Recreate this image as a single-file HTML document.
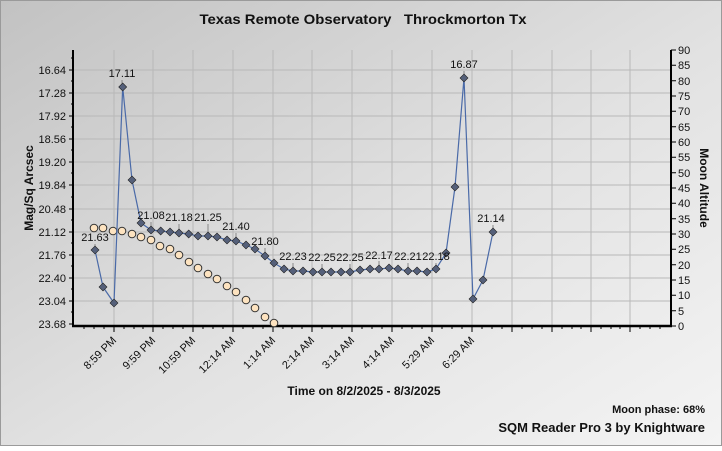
<!DOCTYPE html>
<html><head><meta charset="utf-8"><style>
html,body{margin:0;padding:0;}
body{width:722px;height:446px;overflow:hidden;}
text{font-family:"Liberation Sans",Arial,sans-serif;}
</style></head><body>
<svg width="722" height="446" xmlns="http://www.w3.org/2000/svg">
<defs>
<linearGradient id="bg" x1="0" y1="0" x2="1" y2="1">
<stop offset="0" stop-color="#c2c2c2"/><stop offset="0.55" stop-color="#e2e2e2"/><stop offset="1" stop-color="#f4f4f4"/>
</linearGradient>
</defs>
<rect x="0" y="0" width="722" height="446" fill="url(#bg)"/>
<rect x="0.5" y="0.5" width="721" height="445" fill="none" stroke="#9a9a9a"/>
<text x="363" y="24" text-anchor="middle" font-size="14" font-weight="bold" fill="#111" textLength="327" lengthAdjust="spacingAndGlyphs" xml:space="preserve">Texas Remote Observatory   Throckmorton Tx</text>
<g stroke="#b8b8b8" stroke-width="1">
<path d="M114 50V326M153 50V326M193 50V326M233 50V326M273 50V326M312 50V326M352 50V326M392 50V326M432 50V326M472 50V326M512 50V326M552 50V326M591 50V326M630 50V326"/>
<path d="M74 70H670M74 93H670M74 116H670M74 139H670M74 162H670M74 185H670M74 209H670M74 232H670M74 255H670M74 278H670M74 301H670"/>
</g>
<g stroke="#000">
<line x1="73" y1="50" x2="73" y2="327" stroke-width="2"/>
<line x1="671" y1="50" x2="671" y2="327" stroke-width="2"/>
<line x1="72" y1="326" x2="672" y2="326" stroke-width="2.5"/>
<path stroke-width="1" d="M69 70H73M69 93H73M69 116H73M69 139H73M69 162H73M69 185H73M69 209H73M69 232H73M69 255H73M69 278H73M69 301H73M69 324H73
M71 58H73M71 81H73M71 104H73M71 127H73M71 150H73M71 173H73M71 197H73M71 220H73M71 243H73M71 266H73M71 289H73M71 312H73
M671 50H676M671 65.3H676M671 80.7H676M671 96H676M671 111.3H676M671 126.7H676M671 142H676M671 157.3H676M671 172.7H676M671 188H676M671 203.3H676M671 218.7H676M671 234H676M671 249.3H676M671 264.7H676M671 280H676M671 295.3H676M671 310.7H676M671 326H676"/>
<path stroke-width="1" d="M114 326V332M153 326V332M193 326V332M233 326V332M273 326V332M312 326V332M352 326V332M392 326V332M432 326V332M472 326V332M512 326V332M552 326V332M591 326V332M630 326V332
M84 326V329M94 326V329M104 326V329M124 326V329M134 326V329M143 326V329M163 326V329M173 326V329M183 326V329M203 326V329M213 326V329M223 326V329M243 326V329M253 326V329M263 326V329M283 326V329M292 326V329M302 326V329M322 326V329M332 326V329M342 326V329M362 326V329M372 326V329M382 326V329M402 326V329M412 326V329M422 326V329M442 326V329M452 326V329M462 326V329M482 326V329M492 326V329M502 326V329M522 326V329M532 326V329M542 326V329M562 326V329M572 326V329M581 326V329M601 326V329M611 326V329M620 326V329M640 326V329M650 326V329M660 326V329"/>
</g>
<g font-size="11" fill="#111" text-anchor="end">
<text x="66" y="74">16.64</text><text x="66" y="97">17.28</text><text x="66" y="120">17.92</text><text x="66" y="143">18.56</text><text x="66" y="166">19.20</text><text x="66" y="189">19.84</text><text x="66" y="213">20.48</text><text x="66" y="236">21.12</text><text x="66" y="259">21.76</text><text x="66" y="282">22.40</text><text x="66" y="305">23.04</text><text x="66" y="328">23.68</text>
</g>
<g font-size="11" fill="#111">
<text x="678" y="54">90</text><text x="678" y="69">85</text><text x="678" y="85">80</text><text x="678" y="100">75</text><text x="678" y="115">70</text><text x="678" y="131">65</text><text x="678" y="146">60</text><text x="678" y="161">55</text><text x="678" y="177">50</text><text x="678" y="192">45</text><text x="678" y="207">40</text><text x="678" y="223">35</text><text x="678" y="238">30</text><text x="678" y="253">25</text><text x="678" y="269">20</text><text x="678" y="284">15</text><text x="678" y="299">10</text><text x="678" y="315">5</text><text x="678" y="330">0</text>
</g>
<text transform="translate(33,188) rotate(-90)" text-anchor="middle" font-size="12" font-weight="bold" fill="#111">Mag/Sq Arcsec</text>
<text transform="translate(700,188) rotate(90)" text-anchor="middle" font-size="12" font-weight="bold" fill="#111">Moon Altitude</text>
<g font-size="11" fill="#111" text-anchor="end">
<text transform="translate(117,341) rotate(-45)">8:59 PM</text>
<text transform="translate(156,341) rotate(-45)">9:59 PM</text>
<text transform="translate(196,341) rotate(-45)">10:59 PM</text>
<text transform="translate(236,341) rotate(-45)">12:14 AM</text>
<text transform="translate(276,341) rotate(-45)">1:14 AM</text>
<text transform="translate(315,341) rotate(-45)">2:14 AM</text>
<text transform="translate(355,341) rotate(-45)">3:14 AM</text>
<text transform="translate(395,341) rotate(-45)">4:14 AM</text>
<text transform="translate(435,341) rotate(-45)">5:29 AM</text>
<text transform="translate(475,341) rotate(-45)">6:29 AM</text>
</g>
<text x="364" y="395" text-anchor="middle" font-size="12" font-weight="bold" fill="#111">Time on 8/2/2025 - 8/3/2025</text>
<text x="705" y="413" text-anchor="end" font-size="11" font-weight="bold" fill="#111">Moon phase: 68%</text>
<text x="705" y="432" text-anchor="end" font-size="13" font-weight="bold" fill="#111">SQM Reader Pro 3 by Knightware</text>
<g fill="#fde3c0" stroke="#333" stroke-width="1">
<circle cx="94" cy="228" r="3.8"/><circle cx="103" cy="228" r="3.8"/><circle cx="113" cy="231" r="3.8"/><circle cx="122" cy="231" r="3.8"/><circle cx="132" cy="234" r="3.8"/><circle cx="141" cy="237" r="3.8"/><circle cx="151" cy="240" r="3.8"/><circle cx="160" cy="246" r="3.8"/><circle cx="170" cy="249" r="3.8"/><circle cx="179" cy="255" r="3.8"/><circle cx="189" cy="262" r="3.8"/><circle cx="198" cy="268" r="3.8"/><circle cx="208" cy="274" r="3.8"/><circle cx="217" cy="279" r="3.8"/><circle cx="227" cy="286" r="3.8"/><circle cx="236" cy="292" r="3.8"/><circle cx="246" cy="300" r="3.8"/><circle cx="255" cy="308" r="3.8"/><circle cx="265" cy="317" r="3.8"/><circle cx="274" cy="323" r="3.8"/>
</g>
<g stroke="#888" stroke-width="1">
<path d="M95 244V250M122 80V87M151 222V230M179 224V233M208 224V236M236 233V241M265 248V256M293 263V271M322 264V272M350 264V272M379 261V269M408 263V271M436 263V269M464 71V78M493 225V232"/>
</g>
<polyline fill="none" stroke="#4a6aa8" stroke-width="1.2" points="95,250 103,287 114,303 122.7,87 132,180 141,223 151,230 160.7,231 170,232 179,233 188.7,234 198,236 208,236 217,237 227,240 236,241 246,245 255,249 265,256 274,263 284,269 293,271 303,271 313,272 322,272 331,272 341,272 350,272 360,270 370,269 379,269 389,268 398,269 408,271 417,271 427,272 436,269 446,253 455,187 464,78 473,299 483,280 493,232"/>
<g fill="#55607a" stroke="#222" stroke-width="0.6">
<path d="M95 246l4 4-4 4-4-4zM103 283l4 4-4 4-4-4zM114 299l4 4-4 4-4-4zM122.7 83l4 4-4 4-4-4zM132 176l4 4-4 4-4-4zM141 219l4 4-4 4-4-4zM151 226l4 4-4 4-4-4zM160.7 227l4 4-4 4-4-4zM170 228l4 4-4 4-4-4zM179 229l4 4-4 4-4-4zM188.7 230l4 4-4 4-4-4zM198 232l4 4-4 4-4-4zM208 232l4 4-4 4-4-4zM217 233l4 4-4 4-4-4zM227 236l4 4-4 4-4-4zM236 237l4 4-4 4-4-4zM246 241l4 4-4 4-4-4zM255 245l4 4-4 4-4-4zM265 252l4 4-4 4-4-4zM274 259l4 4-4 4-4-4zM284 265l4 4-4 4-4-4zM293 267l4 4-4 4-4-4zM303 267l4 4-4 4-4-4zM313 268l4 4-4 4-4-4zM322 268l4 4-4 4-4-4zM331 268l4 4-4 4-4-4zM341 268l4 4-4 4-4-4zM350 268l4 4-4 4-4-4zM360 266l4 4-4 4-4-4zM370 265l4 4-4 4-4-4zM379 265l4 4-4 4-4-4zM389 264l4 4-4 4-4-4zM398 265l4 4-4 4-4-4zM408 267l4 4-4 4-4-4zM417 267l4 4-4 4-4-4zM427 268l4 4-4 4-4-4zM436 265l4 4-4 4-4-4zM446 249l4 4-4 4-4-4zM455 183l4 4-4 4-4-4zM464 74l4 4-4 4-4-4zM473 295l4 4-4 4-4-4zM483 276l4 4-4 4-4-4zM493 228l4 4-4 4-4-4z"/>
</g>
<g font-size="11" fill="#111" text-anchor="middle">
<text x="95" y="241">21.63</text><text x="122" y="77">17.11</text><text x="151" y="219">21.08</text><text x="179" y="221">21.18</text><text x="208" y="221">21.25</text><text x="236" y="230">21.40</text><text x="265" y="245">21.80</text><text x="293" y="260">22.23</text><text x="322" y="261">22.25</text><text x="350" y="261">22.25</text><text x="379" y="259">22.17</text><text x="408" y="260">22.21</text><text x="436" y="260">22.18</text><text x="464" y="68">16.87</text><text x="491" y="222">21.14</text>
</g>
</svg>
</body></html>
